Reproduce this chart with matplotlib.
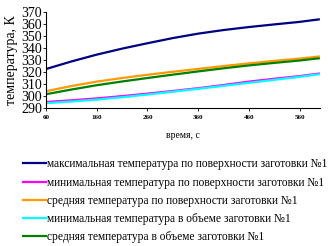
import matplotlib
matplotlib.use("Agg")
import matplotlib.pyplot as plt
from matplotlib.lines import Line2D

plt.rcParams['font.family'] = ['Liberation Serif', 'DejaVu Serif']

time = [60, 110, 160, 210, 260, 310, 360, 410, 460, 510, 560, 600]
t_max_surf = [322.5, 328.8, 334.5, 339.5, 344.0, 348.3, 352.0, 355.0, 357.5, 359.7, 361.8, 364.0]
t_min_surf = [295.0, 296.4, 298.0, 299.9, 302.0, 304.2, 306.5, 309.2, 312.0, 314.4, 316.6, 318.8]
t_avg_surf = [304.0, 308.3, 312.0, 315.0, 317.7, 320.2, 322.6, 325.0, 327.2, 329.3, 331.2, 333.0]
t_min_vol = [294.0, 295.4, 297.0, 299.0, 301.2, 303.6, 306.0, 308.5, 311.0, 313.5, 316.0, 318.2]
t_avg_vol = [301.5, 305.4, 309.0, 312.1, 315.0, 317.8, 320.5, 323.1, 325.5, 327.6, 329.6, 331.5]

labels = [
    "максимальная температура по поверхности заготовки №1",
    "минимальная температура по поверхности заготовки №1",
    "средняя температура по поверхности заготовки №1",
    "минимальная температура в объеме заготовки №1",
    "средняя температура в объеме заготовки №1",
]
colors = ["#000080", "#FF00FF", "#FF9900", "#00FFFF", "#008000"]
series = [t_max_surf, t_min_surf, t_avg_surf, t_min_vol, t_avg_vol]

xticks = [60, 160, 260, 360, 460, 560]
yticks = [290, 300, 310, 320, 330, 340, 350, 360, 370]

fig = plt.figure(figsize=(3.36, 2.46), dpi=100)
ax = fig.add_axes([0.137, 0.561, 0.815, 0.39])

for s, c in zip(series, colors):
    ax.plot(time, s, color=c, lw=1.6, solid_capstyle='butt')

ax.set_xlim(60, 600)
ax.set_ylim(290, 370)
ax.set_xticks(xticks)
ax.set_yticks(yticks)
ax.tick_params(axis='x', labelsize=5, length=2, width=0.6, pad=3)
ax.tick_params(axis='y', labelsize=10, length=2, width=0.6, pad=1)
for lab in ax.get_xticklabels():
    lab.set_fontweight('bold')
for sp in ['top', 'right']:
    ax.spines[sp].set_visible(False)
for sp in ['left', 'bottom']:
    ax.spines[sp].set_linewidth(0.8)
ax.set_ylabel("температура, К", fontsize=10, labelpad=2)
ax.set_xlabel("время, с", fontsize=7, labelpad=8)

handles = [Line2D([0], [0], color=c, lw=1.6) for c in colors]
fig.legend(handles, labels, loc='upper left', bbox_to_anchor=(0.055, 0.375),
           frameon=False, fontsize=8.3, handlelength=2.0, handletextpad=0.05,
           labelspacing=0.54, borderaxespad=0)

fig.savefig("out.png", dpi=100)
